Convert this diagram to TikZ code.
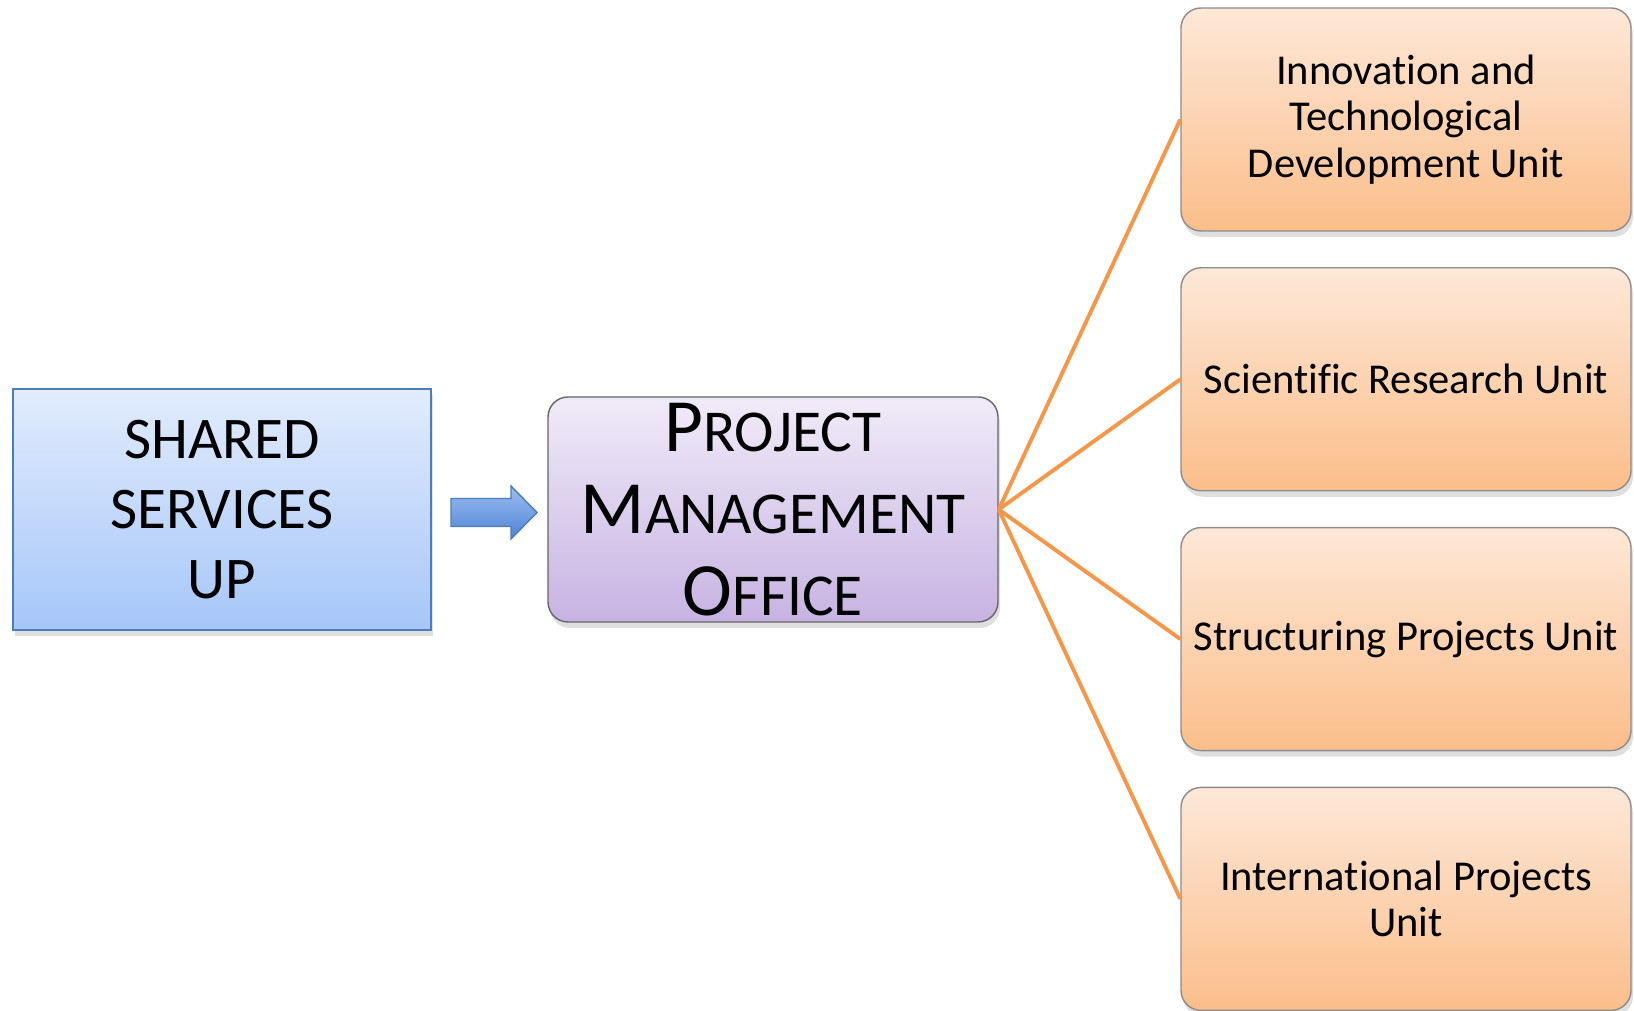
\documentclass[tikz,border=0pt]{standalone}
\usepackage{fontspec}
\setmainfont[Ligatures=NoCommon]{Carlito}
\usetikzlibrary{shadows}

\definecolor{sharedtop}{HTML}{E2ECFC}
\definecolor{sharedbot}{HTML}{A6C6F8}
\definecolor{sharedline}{HTML}{4A7EBB}
\definecolor{pmotop}{HTML}{F0EBF8}
\definecolor{pmobot}{HTML}{C7B3E2}
\definecolor{unittop}{HTML}{FDE8D8}
\definecolor{unitbot}{HTML}{FBBE8A}
\definecolor{unitlink}{HTML}{F79646}
\definecolor{arrowtop}{HTML}{9CBEF2}
\definecolor{arrowbot}{HTML}{4F83D4}

\newcommand\smcap[2]{#1{\fontsize{16.9}{23.3}\selectfont #2}}

\tikzset{
  softshadow/.style={drop shadow={opacity=0.25, shadow xshift=0.2mm, shadow yshift=-0.6mm}},
  sharedbox/.style={draw=sharedline, line width=0.6pt, top color=sharedtop, bottom color=sharedbot,
    minimum width=41.8mm, minimum height=24.1mm, align=center, softshadow,
    font=\fontsize{16.8}{19.9}\selectfont},
  pmobox/.style={draw=black!60, line width=0.4pt, rounded corners=2mm, top color=pmotop, bottom color=pmobot,
    minimum width=45mm, minimum height=22.5mm, inner sep=0pt, align=center, softshadow,
    font=\fontsize{21.4}{23.3}\selectfont},
  unitbox/.style={draw=black!45, line width=0.4pt, rounded corners=2mm, top color=unittop, bottom color=unitbot,
    minimum width=45mm, minimum height=22.3mm, align=center, softshadow,
    font=\fontsize{12.1}{13.3}\selectfont},
  unitlinkline/.style={draw=unitlink, line width=1.1pt},
  blockarrow/.style={draw=sharedline, line width=0.4pt, top color=arrowtop, bottom color=arrowbot},
}

\begin{document}
\begin{tikzpicture}
  \useasboundingbox (0,0) rectangle (16.34,10.11);

  \node[sharedbox] (shared) at (2.22,5.015) {SHARED\\SERVICES\\UP};
  \node[pmobox] (pmo) at (7.73,5.015) {\smcap{P}{ROJECT}\\\smcap{M}{ANAGEMENT}\\\smcap{O}{FFICE}};

  \path[blockarrow] (4.51,4.845) -- (5.11,4.845) -- (5.11,4.72) -- (5.37,4.985)
    -- (5.11,5.25) -- (5.11,5.125) -- (4.51,5.125) -- cycle;

  \foreach[count=\i, evaluate={8.915-2.598*(\i-1)} as \y] \t in
    {{Innovation and\\Technological\\Development Unit},
     {Scientific Research Unit},
     {Structuring Projects Unit},
     {International Projects\\Unit}} {
    \node[unitbox] (unit\i) at (14.06,\y) {\t};
    \draw[unitlinkline] (pmo.east) -- (unit\i.west);
  }
\end{tikzpicture}
\end{document}
